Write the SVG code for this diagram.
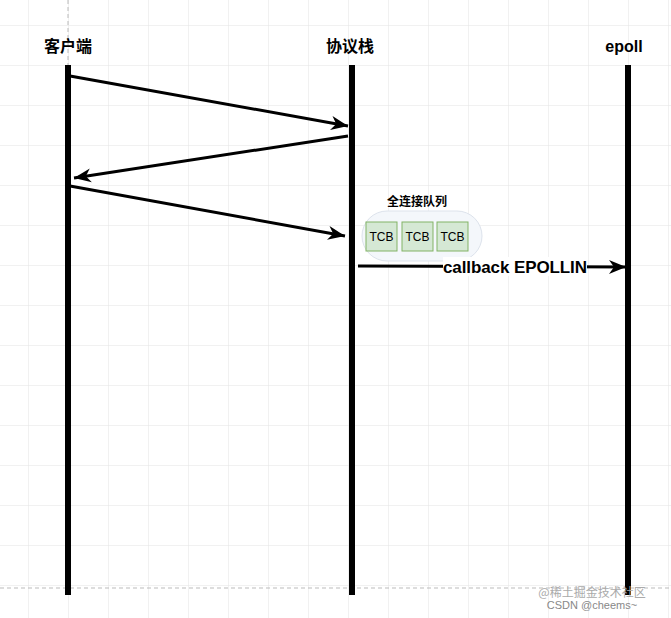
<svg xmlns="http://www.w3.org/2000/svg" width="671" height="618" viewBox="0 0 671 618">
<defs>
<pattern id="g" width="40" height="40" patternUnits="userSpaceOnUse" x="28" y="25"><path d="M0 0H40M0 0V40" fill="none" stroke="#e4e4e4" stroke-width="1"/></pattern>
<marker id="a" viewBox="-20 -10 24 20" refX="0" refY="0" markerWidth="24" markerHeight="20" orient="auto" markerUnits="userSpaceOnUse"><path d="M-17,-7 L0,0 L-17,7 L-12,0Z" fill="#000"/></marker>
<style>
.life{stroke:#000;stroke-width:6}
.t{font-family:"Liberation Sans","Noto Sans CJK SC",sans-serif;font-weight:bold;font-size:16px}
.c{stroke:#000;stroke-width:3;fill:none;marker-end:url(#a)}
.tcb{fill:#d5e8d4;stroke:#82b366}
.tt{font-family:"Liberation Sans",sans-serif;font-size:12px;text-anchor:middle}
</style>
</defs>
<rect width="671" height="618" fill="#fff"/>
<rect width="671" height="618" fill="url(#g)"/>
<path d="M68 0V65M0 588H671" stroke="#bbb" stroke-dasharray="4 3"/>
<g id="client"><text class="t" x="68" y="52" text-anchor="middle">客户端</text><line class="life" x1="68" y1="65" x2="68" y2="595"/></g>
<g id="stack"><text class="t" x="350" y="52" text-anchor="middle">协议栈</text><line class="life" x1="352" y1="65" x2="352" y2="595"/></g>
<g id="epoll"><text class="t" x="624" y="52" text-anchor="middle">epoll</text><line class="life" x1="628" y1="65" x2="628" y2="595"/></g>
<g id="queue">
<rect x="362" y="211" width="120" height="50" rx="25" fill="#f4f7fb" stroke="#dde3ec"/>
<text x="417" y="206" text-anchor="middle" style="font-family:'Noto Sans CJK SC',sans-serif;font-weight:bold;font-size:12px">全连接队列</text>
<rect class="tcb" x="366" y="222" width="31" height="29"/><text class="tt" x="381.5" y="241">TCB</text>
<rect class="tcb" x="402" y="222" width="31" height="29"/><text class="tt" x="417.5" y="241">TCB</text>
<rect class="tcb" x="437" y="222" width="31" height="29"/><text class="tt" x="452.5" y="241">TCB</text>
</g>
<g id="connectors">
<line class="c" x1="70" y1="76" x2="348" y2="126"/>
<line class="c" x1="348" y1="136" x2="74" y2="178"/>
<line class="c" x1="70" y1="186" x2="345" y2="236"/>
<line class="c" x1="358" y1="266" x2="626" y2="267"/>
<rect x="443" y="257" width="144" height="19" fill="#fff"/>
<text class="t" x="515" y="273" text-anchor="middle" style="font-size:17px" textLength="144">callback EPOLLIN</text>
</g>
<text x="592" y="597" text-anchor="middle" fill="#aaa" style="font-family:'Noto Sans CJK SC',sans-serif;font-size:12px">@稀土掘金技术社区</text>
<text x="592" y="609" text-anchor="middle" fill="#888" style="font-family:'Liberation Sans',sans-serif;font-size:11px">CSDN @cheems~</text>
</svg>
